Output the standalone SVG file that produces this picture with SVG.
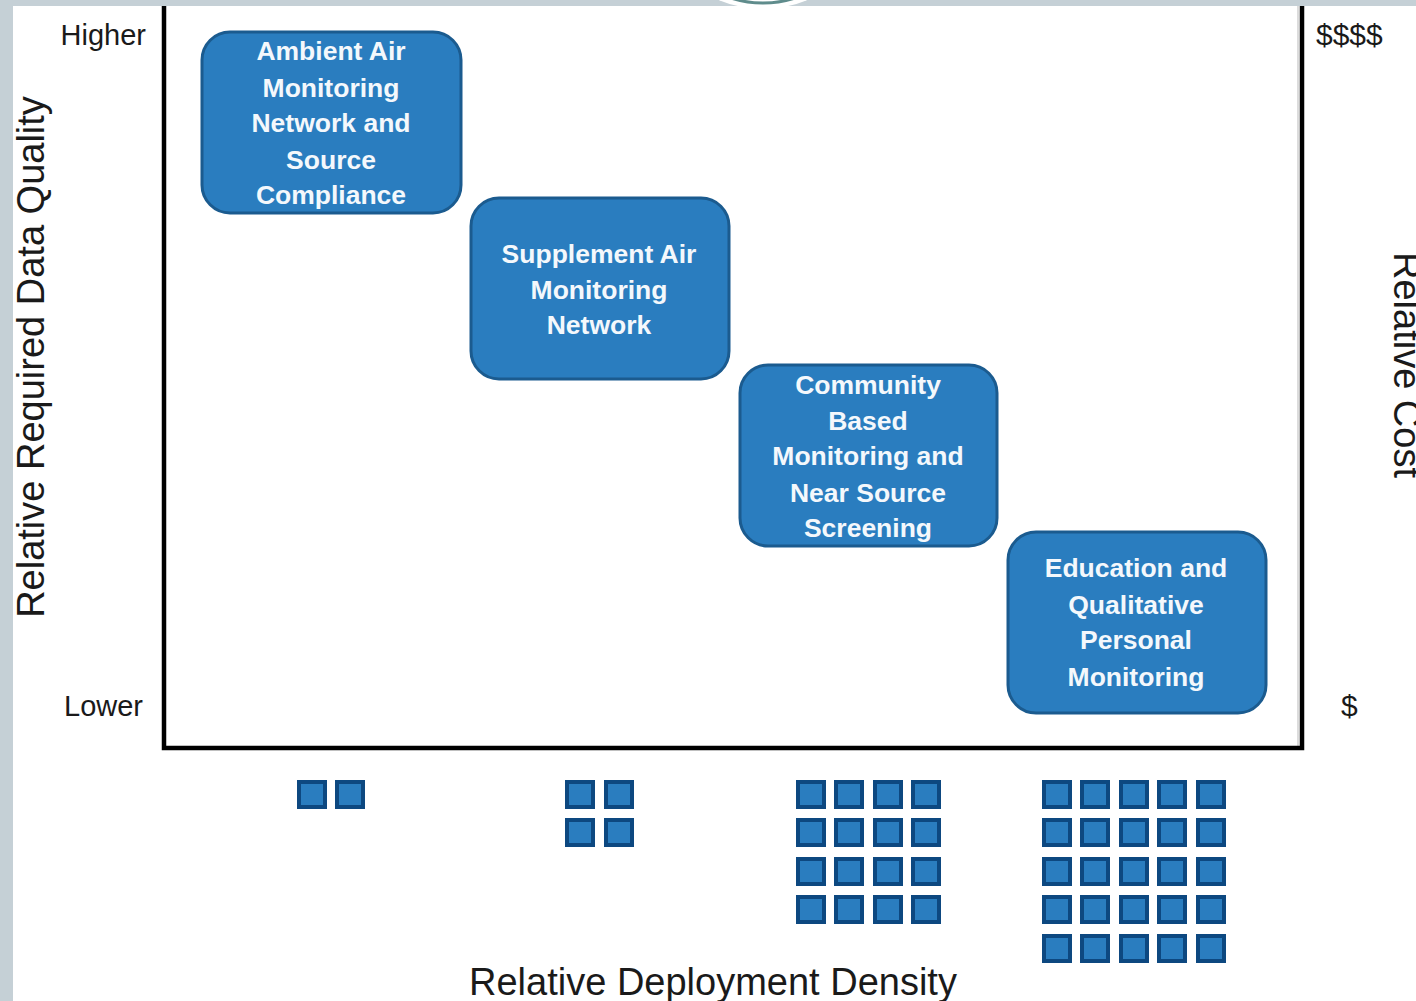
<svg xmlns="http://www.w3.org/2000/svg" width="1416" height="1001" viewBox="0 0 1416 1001">
<style>
.box rect{fill:#2a7dbf;stroke:#1b5b8f;stroke-width:3}
.box text{fill:#f4f8fc;font-family:"Liberation Sans",Arial,sans-serif;font-weight:bold;font-size:26.5px;text-anchor:middle}
.lbl{fill:#1a1a1a;font-family:"Liberation Sans",Arial,sans-serif}
.sq{fill:#2a7dbf;stroke:#0d4880;stroke-width:4}
.axis{stroke:#000;stroke-width:4.5;fill:none}
</style>
<rect width="1416" height="1001" fill="#ffffff"/>
<rect x="0" y="0" width="13" height="1001" fill="#c5d0d6"/>
<rect x="0" y="0" width="1416" height="6" fill="#c5d0d6"/>
<circle cx="763" cy="-104" r="113" fill="#ffffff"/>
<circle cx="763" cy="-103" r="106" fill="none" stroke="#5f8c8c" stroke-width="3"/>
<line x1="1298" y1="6" x2="1298" y2="746" stroke="#d0d0d0" stroke-width="1.5"/>
<g id="axes">
<path class="axis" d="M164,6 V748 H1302 V6"/>
</g>
<text class="lbl" x="146" y="45" font-size="29" text-anchor="end">Higher</text>
<text class="lbl" x="143" y="716" font-size="29" text-anchor="end">Lower</text>
<text class="lbl" x="1316" y="45" font-size="30">$$$$</text>
<text class="lbl" x="1341" y="716" font-size="30">$</text>
<text class="lbl" transform="translate(44,357) rotate(-90)" font-size="38" text-anchor="middle">Relative Required Data Quality</text>
<text class="lbl" transform="translate(1394,252) rotate(90)" font-size="38">Relative Cost</text>
<text class="lbl" x="713" y="995" font-size="38" text-anchor="middle">Relative Deployment Density</text>
<g id="node-ambient" class="box">
<rect x="202" y="32" width="259" height="181" rx="28"/>
<text x="331" y="60">Ambient Air</text>
<text x="331" y="97">Monitoring</text>
<text x="331" y="132">Network and</text>
<text x="331" y="169">Source</text>
<text x="331" y="204">Compliance</text>
</g>
<g id="node-supplement" class="box">
<rect x="471" y="198" width="258" height="181" rx="28"/>
<text x="599" y="263">Supplement Air</text>
<text x="599" y="299">Monitoring</text>
<text x="599" y="334">Network</text>
</g>
<g id="node-community" class="box">
<rect x="740" y="365" width="257" height="181" rx="28"/>
<text x="868" y="394">Community</text>
<text x="868" y="430">Based</text>
<text x="868" y="465">Monitoring and</text>
<text x="868" y="502">Near Source</text>
<text x="868" y="537">Screening</text>
</g>
<g id="node-education" class="box">
<rect x="1008" y="532" width="258" height="181" rx="28"/>
<text x="1136" y="577">Education and</text>
<text x="1136" y="614">Qualitative</text>
<text x="1136" y="649">Personal</text>
<text x="1136" y="686">Monitoring</text>
</g>
<defs>
<rect id="s" x="2" y="2" width="26" height="25"/>
</defs>
<g id="connectors"></g>
<g id="density-1" class="sq">
<use href="#s" x="297" y="780"/><use href="#s" x="335" y="780"/>
</g>
<g id="density-2" class="sq">
<use href="#s" x="565" y="780"/><use href="#s" x="604" y="780"/>
<use href="#s" x="565" y="818"/><use href="#s" x="604" y="818"/>
</g>
<g id="density-3" class="sq">
<use href="#s" x="796" y="780"/><use href="#s" x="834" y="780"/><use href="#s" x="873" y="780"/><use href="#s" x="911" y="780"/>
<use href="#s" x="796" y="818"/><use href="#s" x="834" y="818"/><use href="#s" x="873" y="818"/><use href="#s" x="911" y="818"/>
<use href="#s" x="796" y="857"/><use href="#s" x="834" y="857"/><use href="#s" x="873" y="857"/><use href="#s" x="911" y="857"/>
<use href="#s" x="796" y="895"/><use href="#s" x="834" y="895"/><use href="#s" x="873" y="895"/><use href="#s" x="911" y="895"/>
</g>
<g id="density-4" class="sq">
<use href="#s" x="1042" y="780"/><use href="#s" x="1080" y="780"/><use href="#s" x="1119" y="780"/><use href="#s" x="1157" y="780"/><use href="#s" x="1196" y="780"/>
<use href="#s" x="1042" y="818"/><use href="#s" x="1080" y="818"/><use href="#s" x="1119" y="818"/><use href="#s" x="1157" y="818"/><use href="#s" x="1196" y="818"/>
<use href="#s" x="1042" y="857"/><use href="#s" x="1080" y="857"/><use href="#s" x="1119" y="857"/><use href="#s" x="1157" y="857"/><use href="#s" x="1196" y="857"/>
<use href="#s" x="1042" y="895"/><use href="#s" x="1080" y="895"/><use href="#s" x="1119" y="895"/><use href="#s" x="1157" y="895"/><use href="#s" x="1196" y="895"/>
<use href="#s" x="1042" y="934"/><use href="#s" x="1080" y="934"/><use href="#s" x="1119" y="934"/><use href="#s" x="1157" y="934"/><use href="#s" x="1196" y="934"/>
</g>
</svg>
